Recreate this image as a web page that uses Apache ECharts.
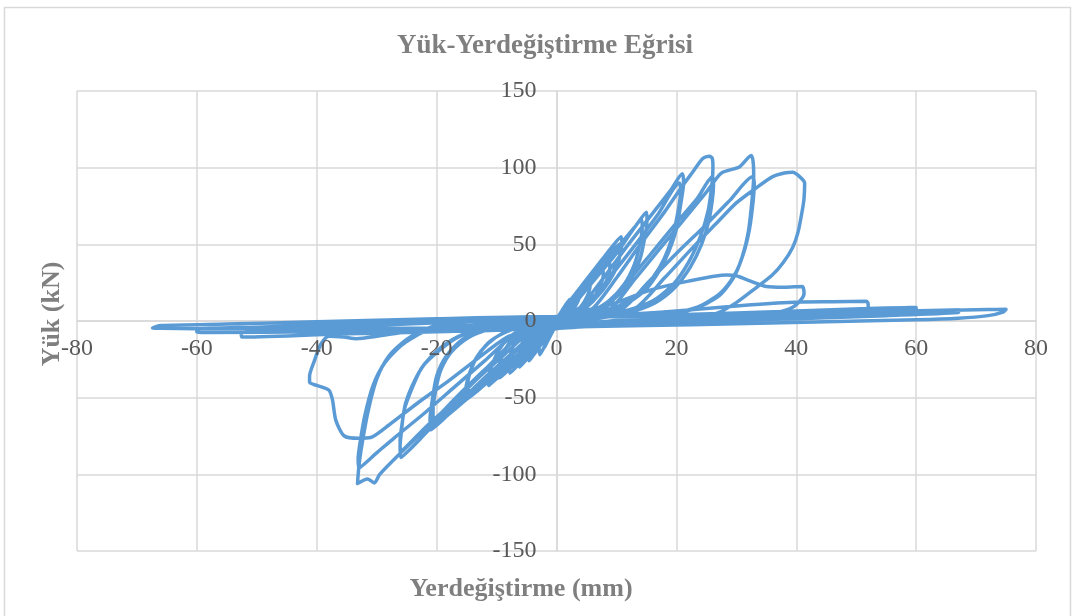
<!DOCTYPE html>
<html>
<head>
<meta charset="utf-8">
<script src="https://cdn.jsdelivr.net/npm/echarts@6/dist/echarts.min.js"></script>
<style>
  html, body { margin: 0; padding: 0; background: #ffffff; }
  #chart { width: 1076px; height: 616px; }
</style>
</head>
<body>
<div id="chart"></div>
<script>
// Load–displacement record of the cyclic test: displacement (mm), load (kN).
// Each loop is one full cycle (push, unload, pull, unload).
const loop01 = [[0,0],[0.8,6],[1.8,12],[2.2,14],[2.1,10],[1.5,5],[0.6,1],[0,-2],[-0.8,-8],[-1.6,-14],[-2,-17],[-2,-12],[-1.4,-6],[-0.6,-1],[0,1]];
const loop02 = [[0,1],[0.8,6],[2,12],[3.2,17],[3.8,20],[3.8,16],[3.2,10],[2.2,5],[1,1],[0,-2],[-0.8,-8],[-1.8,-15],[-2.8,-22],[-2.9,-17],[-2.5,-10],[-1.6,-4],[-0.6,0],[0,1.5]];
const loop03 = [[0,1.5],[0.8,6],[2.2,13],[4,21],[5.5,27],[5.6,23],[5.1,16],[4,9],[2.5,4],[1,0.5],[0,-2],[-1,-8],[-2.5,-15],[-3.8,-22],[-4.6,-26],[-4.7,-21],[-4.3,-13],[-3.3,-6],[-1.8,-1.5],[0,1.5]];
const loop04 = [[0,1.5],[1,7],[3,16],[5.5,26],[7.7,35],[7.8,30],[7.2,22],[6,14],[4.2,7],[2,2],[0,-2],[-1,-8],[-3,-16],[-5,-25],[-6.2,-30],[-6.3,-24],[-5.8,-15],[-4.6,-8],[-2.7,-2.5],[0,1.5]];
const loop05 = [[0,1.5],[1,7],[3.5,18],[6.5,31],[8.8,40],[8.9,35],[8.3,26],[7,17],[5,9],[2.5,3],[0,-2],[-1,-8],[-3.5,-17],[-6,-27],[-7.8,-34],[-7.9,-28],[-7.4,-18],[-6.2,-10],[-4,-4],[-1.5,0],[0,1.5]];
const loop06 = [[0,1.5],[1,7],[4,22],[8,42],[10.8,55],[10.9,50],[10.5,42],[9.3,31],[7.2,20],[4.5,10],[2,3],[0,-2],[-1.2,-8],[-4,-18],[-8,-31],[-11.3,-42],[-11.3,-36],[-10.7,-28],[-9.6,-19],[-8,-11],[-5.5,-5],[-2.5,-1],[0,1.5]];
const loop07 = [[0,1.5],[1,7],[4,21],[8,39],[10.5,50],[10.6,45],[10.1,36],[8.8,26],[6.8,16],[4.2,8],[1.8,2],[0,-2],[-1.2,-8],[-4,-18],[-7,-28],[-9.5,-37],[-9.6,-31],[-9.1,-23],[-8,-15],[-6.2,-8],[-3.5,-3],[0,1.5]];
const loop08 = [[0,1.5],[1.5,7],[5,24],[10,47],[13,61],[15,71],[15.1,66],[14.8,56],[13.9,40],[12.2,26],[9.5,14],[6,6],[3,1.5],[0,-2],[-1.5,-8],[-5,-20],[-10,-35],[-13,-45],[-15,-51],[-15.1,-44],[-14.5,-34],[-13.4,-24],[-11.5,-15],[-9,-8],[-5.5,-3],[-2,0],[0,1.5]];
const loop09 = [[0,1.5],[2,7],[5.5,23],[10,44],[14.2,66],[14.3,61],[13.9,50],[13,37],[11.3,24],[8.7,13],[5.5,5.5],[2.5,1],[0,-2],[-2,-8],[-5.5,-19],[-10,-33],[-14.7,-47],[-14.8,-41],[-14.2,-31],[-13,-22],[-11,-13],[-8.3,-7],[-4.5,-2],[0,1.5]];
const loop10 = [[0,1.5],[2,5],[4,9],[8,29],[12,50],[16,70],[19,85],[21,96],[21.2,90],[20.8,78],[20,60],[18.7,45],[17.2,33],[15,21],[12,12],[8,5],[4,1],[0,-2.5],[-1.5,-6],[-3,-9],[-7,-24],[-11,-38],[-15,-51],[-18,-61],[-21,-71],[-21.1,-64],[-20.7,-51],[-20,-36],[-18.4,-23],[-15.7,-12],[-11.7,-5],[-6,-1],[0,2]];
const loop11 = [[0,2],[3,5],[5,9],[9,29],[13,49],[17,70],[20.5,90],[20.7,85],[20.3,72],[19.4,56],[18,41],[16.2,29],[13.8,18],[10.5,10],[6.5,4],[3,0.5],[0,-2.5],[-2,-6],[-3.5,-9],[-8,-24],[-12,-38],[-16,-51],[-20.5,-66],[-20.6,-59],[-20.2,-46],[-19.3,-32],[-17.5,-20],[-14.8,-11],[-10.8,-5],[-5.5,-1],[0,2]];
const loop12 = [[0,2],[3,4.5],[6,8],[10,28],[14,50],[18,71],[21,88],[22.7,97],[24.4,106],[25.5,107.5],[26,106],[26.1,100],[25.9,88],[25.3,72],[24,55],[22,38],[19.5,24],[16,13],[11,6],[5,1],[0,-3],[-2,-6],[-4,-9],[-8,-23],[-12,-37],[-16,-52],[-21,-70],[-26,-89],[-26.1,-82],[-25.9,-73],[-25.4,-58],[-24,-43],[-22.4,-30],[-19.5,-19],[-16.2,-10],[-11,-4],[-5,0],[0,2]];
const loop13 = [[0,2],[4,4],[8,8],[12,26],[16,45],[20,64],[23.5,80],[26,94],[26.2,89],[26,79],[25.4,65],[24.2,50],[22.3,35],[19.8,22],[16.5,12],[12,5.5],[6,1],[0,-3],[-2.5,-6],[-5,-9],[-9,-23],[-13,-37],[-17,-52],[-21.5,-68],[-26,-85],[-26.1,-78],[-25.8,-68],[-25.2,-54],[-23.8,-40],[-22,-28],[-19.2,-17],[-15.8,-9],[-10.5,-3.5],[-5,0],[0,2]];
const loop14 = [[0,2],[5,4],[9,8],[13,27],[17,46],[21,65],[25,84],[27.5,96.5],[30.5,100.5],[32.5,108],[32.8,104],[32.9,95],[32.6,78],[32,58],[31,42],[29.5,28],[27,16],[23,8],[17,3],[9,0],[0,-3.5],[-3,-6],[-6,-9],[-11,-28],[-16,-47],[-21,-67],[-26,-86],[-29.5,-100],[-30.4,-105.6],[-31.5,-103],[-33.2,-106],[-33,-96],[-32.6,-84],[-31.5,-60],[-30,-38],[-28,-23],[-25,-12],[-21,-4],[-15.7,0],[-8,1.5],[0,3]];
const loop15 = [[0,3],[6,4.5],[11,8],[15,24],[20,44],[25,63],[29,79],[32.7,94],[33,90],[32.8,78],[32.2,60],[31.2,44],[29.7,30],[27.3,18],[23.5,9],[18,4],[10,0],[0,-3.5],[-3.5,-6],[-7,-9],[-12,-26],[-17,-43],[-22,-60],[-27,-76],[-30,-86],[-33,-96],[-33.1,-90],[-32.8,-80],[-32,-62],[-30.6,-42],[-28.6,-27],[-25.6,-15],[-21.5,-6],[-16,-1],[-8,1.5],[0,3]];
const loop16 = [[0,3],[7,4.5],[13,8],[18,28],[23,49],[27,65],[30,77],[33.4,87],[36,94],[38,96.5],[39.4,97],[40.6,94],[41.4,90],[41.3,80],[41,72],[40.3,58],[39.4,48],[37.8,38],[36,30],[33.4,22],[30,12],[26.7,5],[22,1],[12,-2],[0,-5],[-4,-7],[-8,-10],[-13,-24],[-18,-39],[-23,-53],[-28,-68],[-31,-76],[-33,-76.5],[-35.4,-75],[-36.8,-65],[-37.4,-51],[-38,-45],[-40,-42],[-41.2,-40],[-41.2,-36],[-40.4,-26],[-39.3,-15],[-38,-10],[-35.5,-10.5],[-33.4,-11.5],[-30,-10],[-25,-7],[-15,-3],[-5,0],[0,2]];
const loop17 = [[0,2],[4,6],[10,12],[15.5,20],[22,26],[28.4,30],[30,29.5],[32,26.5],[35,22.5],[38,22],[41,22.5],[41.3,18],[40.8,14],[39.4,9],[36.7,5.5],[33,3.5],[20,0.5],[10,-1.5],[0,-4],[-10,-6],[-20,-7],[-30,-8],[-41,-8.5],[-41,-6],[-38,-3],[-30,-1.5],[-15,0.5],[0,2.5]];
const loop18 = [[0,2.5],[10,4],[20,6.5],[32,10.4],[40.5,12.4],[46,12.6],[51.7,12.8],[52,11],[52,8.3],[45,6],[35,3.5],[20,1],[8,-1.5],[0,-3],[-10,-5],[-25,-7],[-40,-9],[-52.5,-10.5],[-52.6,-8],[-50,-6.5],[-40,-4.5],[-25,-2],[-10,0.5],[0,2.5]];
const loop19 = [[0,2.5],[20,4],[40,6.5],[52,8.2],[58,8.7],[60,8.8],[60,6.5],[50,4.5],[35,2.5],[20,0.5],[8,-1.5],[0,-3],[-20,-5.5],[-40,-7],[-58,-7.5],[-60,-7.3],[-60,-5.5],[-50,-4],[-35,-2],[-20,0],[0,3]];
const loop20 = [[0,3],[20,3],[40,5],[55,6.3],[66,7.1],[67.2,7.2],[67,5.5],[55,3.5],[40,1.5],[20,-0.5],[0,-3],[-20,-4.5],[-40,-5],[-60,-5],[-66,-4.8],[-67.4,-4.6],[-66,-3],[-55,-2],[-40,-0.5],[-20,1.5],[0,3]];
const loop21 = [[0,3],[20,2.5],[40,4.5],[60,6.5],[72,7.5],[75,7.6],[74.5,5.8],[72,3.5],[67,1.8],[60,0.8],[45,-0.5],[30,-1.8],[15,-3],[0,-4]];

const loops = [loop01, loop02, loop03, loop04, loop05, loop06, loop07, loop08, loop09, loop10,
  loop11, loop12, loop13, loop14, loop15, loop16, loop17, loop18, loop19, loop20, loop21];

const chartTitle = 'Yük-Yerdeğiştirme Eğrisi';
const xTitle = 'Yerdeğiştirme (mm)';
const yTitle = 'Yük (kN)';

// the cycles are drawn as one continuous trace
const trace = [];
loops.forEach(function (loop, i) {
  loop.forEach(function (p, j) {
    if (i > 0 && j === 0) return;
    trace.push(p);
  });
});

const serif = "'Liberation Serif', 'Times New Roman', serif";
const gridGray = '#D9D9D9';
const gridLeft = 77, gridRight = 40, gridTop = 91, gridBottom = 65;
const plotW = 1076 - gridLeft - gridRight;
const plotH = 616 - gridTop - gridBottom;
// axes cross at the origin: shift each axis from the plot edge to the zero line
const xMin = -80, xMax = 80, yMin = -150, yMax = 150;
const xAxisShift = -plotH * (0 - yMin) / (yMax - yMin);
const yAxisShift = -plotW * (0 - xMin) / (xMax - xMin);

const labelStyle = { color: '#595959', fontFamily: serif, fontSize: 24 };

// axis pair 0: grid + axis lines beneath the curve; pair 1: tick labels above it
function xAxisDef(withLabels) {
  return {
    type: 'value', min: xMin, max: xMax, interval: 20,
    position: 'bottom', offset: xAxisShift, z: withLabels ? 10 : 0,
    axisLine: { show: !withLabels, onZero: false, lineStyle: { color: gridGray, width: 1.5 } },
    axisTick: { show: false },
    axisLabel: Object.assign({ show: withLabels, margin: 16 }, labelStyle),
    splitLine: { show: !withLabels, lineStyle: { color: gridGray, width: 1.5 } }
  };
}
function yAxisDef(withLabels) {
  return {
    type: 'value', min: yMin, max: yMax, interval: 50,
    position: 'left', offset: yAxisShift, z: withLabels ? 10 : 0,
    axisLine: { show: !withLabels, onZero: false, lineStyle: { color: gridGray, width: 1.5 } },
    axisTick: { show: false },
    axisLabel: Object.assign({ show: withLabels, margin: 20 }, labelStyle),
    splitLine: { show: !withLabels, lineStyle: { color: gridGray, width: 1.5 } }
  };
}

const chart = echarts.init(document.getElementById('chart'), null, { renderer: 'canvas' });
chart.setOption({
  backgroundColor: '#ffffff',
  animation: false,
  grid: { left: gridLeft, right: gridRight, top: gridTop, bottom: gridBottom, containLabel: false },
  xAxis: [xAxisDef(false), xAxisDef(true)],
  yAxis: [yAxisDef(false), yAxisDef(true)],
  series: [{
    type: 'line',
    xAxisIndex: 0,
    yAxisIndex: 0,
    data: trace,
    showSymbol: false,
    smooth: 0.25,
    lineStyle: { color: '#5B9BD5', width: 3.5, cap: 'round', join: 'round' },
    z: 3
  }],
  graphic: [
    { type: 'rect', shape: { x: 4.5, y: 7.5, width: 1066, height: 640 },
      style: { fill: 'none', stroke: gridGray, lineWidth: 1.5 }, silent: true },
    { type: 'text', x: 545, y: 46,
      style: { text: chartTitle, fill: '#7F7F7F', font: 'bold 27px ' + serif, textAlign: 'center', textVerticalAlign: 'middle' } },
    { type: 'text', x: 521, y: 589,
      style: { text: xTitle, fill: '#7F7F7F', font: 'bold 26px ' + serif, textAlign: 'center', textVerticalAlign: 'middle' } },
    { type: 'text', x: 52, y: 314, rotation: Math.PI / 2,
      style: { text: yTitle, fill: '#7F7F7F', font: 'bold 26px ' + serif, textAlign: 'center', textVerticalAlign: 'middle' } }
  ]
});
</script>
</body>
</html>
